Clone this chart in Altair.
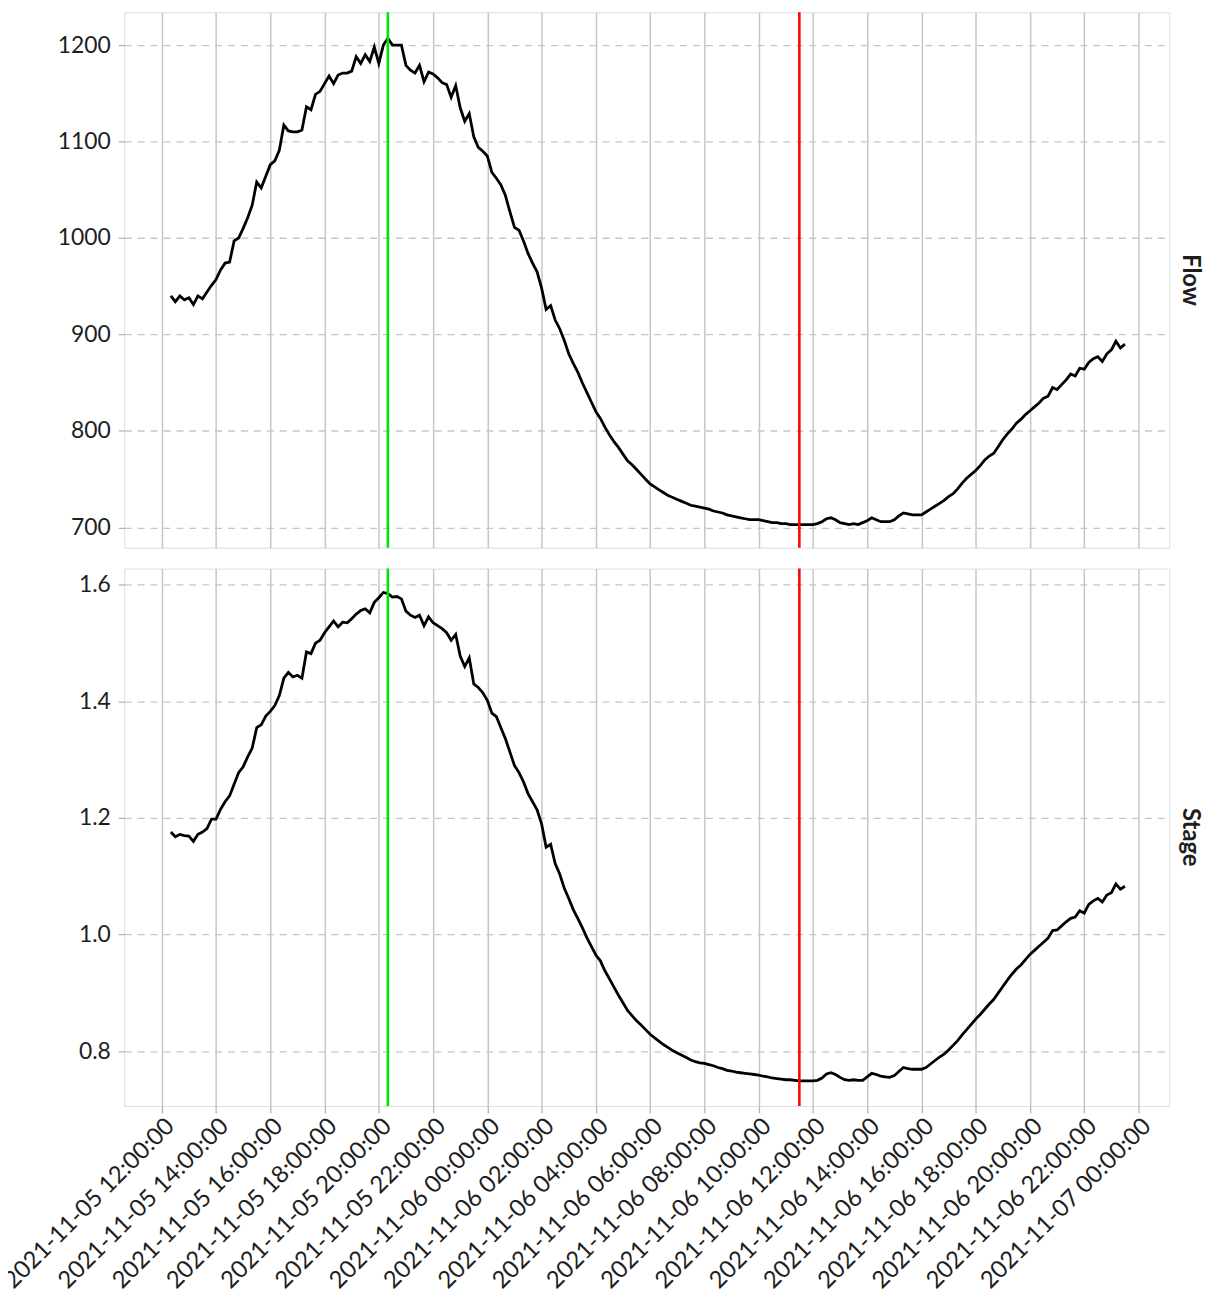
import altair as alt
import pandas as pd

# ---- data (10-minute readings starting at START) ----
START = "2021-11-05 12:20:00"
STEP = "10min"

flow = [
    940, 934, 940, 936,
    938, 931, 940, 937, 944, 951,
    957, 967, 974, 975, 997, 1000,
    1010, 1021, 1034, 1058, 1052, 1064,
    1076, 1080, 1091, 1117, 1111, 1110,
    1110, 1112, 1136, 1133, 1149, 1152,
    1160, 1168, 1160, 1169, 1171, 1171,
    1173, 1188, 1181, 1190, 1183, 1198,
    1181, 1200, 1207, 1200, 1200, 1200,
    1179, 1174, 1171, 1179, 1162, 1172,
    1170, 1166, 1161, 1159, 1146, 1158,
    1135, 1121, 1129, 1105, 1094, 1090,
    1085, 1068, 1062, 1055, 1044, 1027,
    1011, 1008, 997, 984, 974, 965,
    948, 926, 930, 915, 906, 894,
    880, 870, 861, 850, 840, 830,
    820, 813, 804, 796, 789, 783,
    776, 769, 765, 760, 755, 750,
    745, 742, 739, 736, 733, 731,
    729, 727, 725, 723, 722, 721,
    720, 719, 717, 716, 715, 713,
    712, 711, 710, 709, 708, 708,
    708, 707, 706, 705, 705, 704,
    704, 703, 703, 703, 703, 703,
    703, 704, 706, 709, 710, 708,
    705, 704, 703, 704, 703, 705,
    707, 710, 708, 706, 706, 706,
    708, 712, 715, 714, 713, 713,
    713, 716, 719, 722, 725, 728,
    732, 735, 740, 746, 751, 755,
    759, 764, 770, 774, 777, 784,
    791, 797, 802, 808, 812, 817,
    821, 825, 829, 834, 836, 845,
    843, 848, 853, 859, 857, 865,
    864, 871, 875, 877, 872, 880,
    884, 893, 886, 890,
]

stage = [
    1.176, 1.168, 1.172, 1.170,
    1.169, 1.160, 1.172, 1.176, 1.182, 1.198,
    1.198, 1.215, 1.228, 1.238, 1.258, 1.278,
    1.288, 1.305, 1.320, 1.355, 1.360, 1.375,
    1.383, 1.393, 1.410, 1.440, 1.450, 1.442,
    1.445, 1.440, 1.485, 1.482, 1.500, 1.505,
    1.518, 1.528, 1.538, 1.528, 1.536, 1.535,
    1.542, 1.550, 1.556, 1.559, 1.552, 1.570,
    1.578, 1.587, 1.585, 1.579, 1.580, 1.576,
    1.555, 1.548, 1.544, 1.548, 1.530, 1.545,
    1.535, 1.530, 1.525, 1.518, 1.505, 1.515,
    1.478, 1.460, 1.475, 1.430, 1.424, 1.415,
    1.402, 1.380, 1.374, 1.355, 1.336, 1.313,
    1.290, 1.278, 1.262, 1.242, 1.228, 1.214,
    1.190, 1.150, 1.155, 1.122, 1.104, 1.080,
    1.062, 1.043, 1.028, 1.012, 0.995, 0.980,
    0.965, 0.955, 0.938, 0.924, 0.910, 0.896,
    0.883, 0.870, 0.861, 0.852, 0.845, 0.837,
    0.829, 0.823, 0.817, 0.811, 0.806, 0.801,
    0.797, 0.793, 0.789, 0.785, 0.782, 0.780,
    0.779, 0.777, 0.775, 0.772, 0.770, 0.767,
    0.766, 0.764, 0.763, 0.762, 0.761, 0.760,
    0.759, 0.757, 0.756, 0.754, 0.753, 0.752,
    0.751, 0.751, 0.750, 0.749, 0.749, 0.749,
    0.749, 0.750, 0.754, 0.761, 0.763, 0.760,
    0.755, 0.751, 0.750, 0.751, 0.750, 0.750,
    0.756, 0.762, 0.760, 0.757, 0.756, 0.755,
    0.758, 0.765, 0.772, 0.770, 0.769, 0.769,
    0.769, 0.772, 0.778, 0.784, 0.790, 0.795,
    0.802, 0.810, 0.818, 0.828, 0.837, 0.846,
    0.855, 0.863, 0.872, 0.881, 0.889, 0.900,
    0.911, 0.922, 0.932, 0.941, 0.948, 0.957,
    0.966, 0.973, 0.980, 0.987, 0.994, 1.007,
    1.008, 1.015, 1.022, 1.028, 1.030, 1.041,
    1.037, 1.052, 1.058, 1.062, 1.056, 1.068,
    1.072, 1.087, 1.078, 1.083,
]

tick_labels = [
    "2021-11-05 12:00:00", "2021-11-05 14:00:00", "2021-11-05 16:00:00",
    "2021-11-05 18:00:00", "2021-11-05 20:00:00", "2021-11-05 22:00:00",
    "2021-11-06 00:00:00", "2021-11-06 02:00:00", "2021-11-06 04:00:00",
    "2021-11-06 06:00:00", "2021-11-06 08:00:00", "2021-11-06 10:00:00",
    "2021-11-06 12:00:00", "2021-11-06 14:00:00", "2021-11-06 16:00:00",
    "2021-11-06 18:00:00", "2021-11-06 20:00:00", "2021-11-06 22:00:00",
    "2021-11-07 00:00:00",
]
x_domain = ["2021-11-05 10:37:00", "2021-11-07 01:08:00"]
marker_times = ["2021-11-05 20:20:00", "2021-11-06 11:30:00"]
marker_colors = ["#00e600", "#f00a0a"]

panels = ["Flow", "Stage"]
flow_domain = [679, 1234]
stage_domain = [0.706, 1.628]
flow_ticks = [700, 800, 900, 1000, 1100, 1200]
stage_ticks = [0.8, 1.0, 1.2, 1.4, 1.6]


def dt(s):
    t = pd.Timestamp(s)
    return alt.DateTime(year=t.year, month=t.month, date=t.day,
                        hours=t.hour, minutes=t.minute, seconds=t.second)


times = pd.date_range(START, periods=len(flow), freq=STEP).strftime("%Y-%m-%dT%H:%M:%S")
df = pd.DataFrame({"time": list(times), "Flow": flow, "Stage": stage})
rules_df = pd.DataFrame({
    "time": [pd.Timestamp(t).strftime("%Y-%m-%dT%H:%M:%S") for t in marker_times],
    "color": marker_colors,
})

FONT = "Lato"
GRID = "#c6c6c6"
W = 1052


def panel(field, domain, ticks, h, show_x, fmt):
    x = alt.X(
        "time:T",
        scale=alt.Scale(domain=[dt(d) for d in x_domain], nice=False),
        axis=alt.Axis(
            values=[dt(t) for t in tick_labels],
            format="%Y-%m-%d %H:%M:%S",
            labels=show_x, ticks=show_x, domain=False, title=None,
            grid=True, gridColor=GRID, gridWidth=1.5,
            tickColor="#b0b0b0", tickSize=7, tickWidth=1.2,
            labelAngle=-45, labelAlign="right", labelBaseline="top",
            labelFont=FONT, labelFontSize=24, labelColor="#1e1e1e",
            labelPadding=1, labelOverlap=False, labelFlush=False,
            labelLimit=0,
        ),
    )
    y = alt.Y(
        f"{field}:Q",
        scale=alt.Scale(domain=domain, nice=False, zero=False),
        axis=alt.Axis(
            values=ticks, format=fmt, title=None, domain=False,
            grid=True, gridColor=GRID, gridDash=[7, 6], gridWidth=1.3,
            tickColor="#b0b0b0", tickSize=6, tickWidth=1.2,
            labelFont=FONT, labelFontSize=23, labelColor="#1e1e1e",
            labelPadding=8,
        ),
    )
    line = alt.Chart(df).mark_line(color="black", strokeWidth=2.8).encode(x=x, y=y)
    rules = alt.Chart(rules_df).mark_rule(strokeWidth=2.6).encode(
        x=x, color=alt.Color("color:N", scale=None)
    )
    label = alt.Chart(pd.DataFrame({"label": [field]})).mark_text(
        angle=90, fontSize=24, fontWeight="bold", font=FONT, color="#1e1e1e"
    ).encode(text="label:N", x=alt.value(W + 21), y=alt.value(h / 2))
    return alt.layer(line, rules, label).properties(width=W, height=h)


top = panel(panels[0], flow_domain, flow_ticks, 539, False, "d")
bottom = panel(panels[1], stage_domain, stage_ticks, 541, True, ".1f")

chart = alt.vconcat(top, bottom, spacing=17).properties(
    padding={"left": -9, "top": -2, "right": 4, "bottom": 0}
).configure_view(stroke="#b4b4b4", strokeWidth=1.5).configure(background="white")

chart.save("out.html", embed_options={"renderer": "svg", "actions": False})
